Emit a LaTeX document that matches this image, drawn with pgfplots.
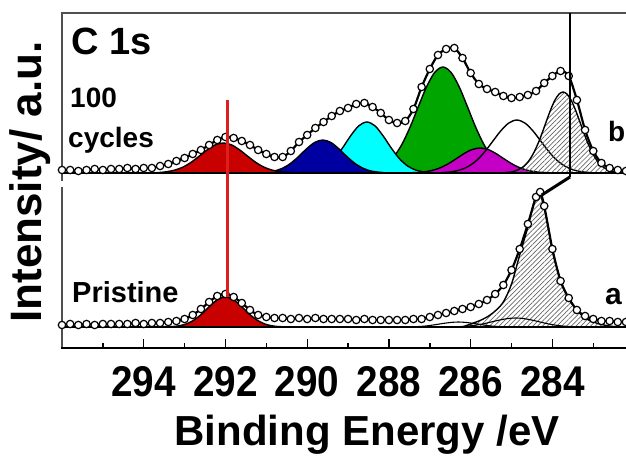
\documentclass[border=0pt]{standalone}
\usepackage{fontspec}
\setmainfont{Liberation Sans}
\newfontfamily\narrowsans[FakeStretch=0.9]{Liberation Sans}
\usepackage{pgfplots}
\pgfplotsset{compat=1.18}
\usetikzlibrary{patterns.meta}
\definecolor{cred}{RGB}{200,0,0}
\definecolor{cblue}{RGB}{0,0,160}
\definecolor{ccyan}{RGB}{0,255,255}
\definecolor{cgreen}{RGB}{0,165,0}
\definecolor{cmag}{RGB}{195,0,195}
\definecolor{vline}{RGB}{225,30,30}
\definecolor{framec}{RGB}{80,80,80}
\pgfplotsset{
  peak/.style={draw=black, line width=1.4pt, smooth},
  hatch/.style={pattern={Lines[angle=45,distance=3.4pt,line width=0.7pt]}, pattern color=black!60},
  env/.style={black, line width=2.2pt, smooth, mark=*, mark size=3.7pt,
    mark options={solid, fill=white, draw=black, line width=1.2pt}},
}
\begin{document}
\begin{tikzpicture}
\path[use as bounding box] (0pt,0pt) rectangle (626pt,455pt);
% ---------- bottom panel: pristine (its frame encloses the whole figure) ----------
\begin{axis}[at={(62pt,107pt)}, anchor=south west, scale only axis,
  width=566pt, height=335pt, x dir=reverse, xmin=282.15, xmax=296,
  ymin=-21, ymax=314,
  axis line style={framec, line width=1.5pt},
  ytick=\empty,
  xtick={284,286,288,290,292,294},
  major tick length=0pt, minor tick length=0pt,
  /pgf/number format/assume math mode=true,
  xticklabel style={font=\narrowsans\bfseries\fontsize{43}{50}\selectfont, inner sep=0pt, yshift=-18pt}]
% red
\addplot[peak, fill=cred] coordinates {(293.6,0)(293.4,0.2)(293.2,0.8)(293.0,2.5)(292.8,6.2)(292.6,12.3)(292.4,20.2)(292.2,27.2)(292.0,30)(291.8,27.2)(291.6,20.2)(291.4,12.3)(291.2,6.2)(291.0,2.5)(290.8,0.8)(290.6,0.2)(290.4,0)} \closedcycle;
% hatched main peak
\addplot[peak, hatch] coordinates {(286.2,0)(286.0,3)(285.8,6)(285.6,10)(285.4,16)(285.2,25)(285.0,43)(284.8,72)(284.6,100)(284.45,125)(284.35,134)(284.25,127)(284.1,100)(284.0,76)(283.8,47)(283.6,28)(283.4,17)(283.2,9)(283.0,5)(282.8,2.5)(282.6,1)(282.4,0)} \closedcycle;
% small components (outline)
\addplot[peak, line width=1.1pt] coordinates {(286.5,0)(286.3,0.35)(286.1,0.8)(285.9,1.7)(285.7,3.1)(285.5,5.0)(285.3,6.9)(285.1,8.4)(284.9,9)(284.7,8.4)(284.5,6.9)(284.3,5.0)(284.1,3.1)(283.9,1.7)(283.7,0.8)(283.5,0.35)(283.3,0)};
\addplot[peak, line width=1.1pt] coordinates {(287.5,0)(287.3,0.4)(287.1,1.0)(286.9,2.1)(286.7,3.4)(286.5,4.5)(286.3,5)(286.1,4.5)(285.9,3.4)(285.7,2.1)(285.5,1.0)(285.3,0.4)(285.1,0)};
% baseline
\addplot[black, line width=2pt] coordinates {(296,0)(282.2,0)};
% measured data + envelope
\addplot[env] coordinates {(296.0,2)(295.8,3)(295.6,2)(295.4,3)(295.2,2)(295.0,3)(294.8,3)(294.6,3)(294.4,3)(294.2,4)(294.0,3)(293.8,4)(293.6,4)(293.4,5)(293.2,6)(293.0,8)(292.8,12)(292.6,18)(292.4,25)(292.2,31)(292.0,33)(291.8,30)(291.6,24)(291.4,17)(291.2,12)(291.0,10)(290.8,9)(290.6,9)(290.4,8)(290.2,9)(290.0,8)(289.8,9)(289.6,8)(289.4,8)(289.2,8)(289.0,8)(288.8,7)(288.6,8)(288.4,7)(288.2,7)(288.0,7)(287.8,7)(287.6,7)(287.4,8)(287.2,8)(287.0,10)(286.8,12)(286.6,14)(286.4,16)(286.2,18)(286.0,20)(285.8,23)(285.6,27)(285.4,33)(285.2,42)(285.0,57)(284.8,78)(284.6,103)(284.4,130)(284.3,135)(284.2,121)(284.0,78)(283.8,46)(283.6,29)(283.4,17)(283.2,11)(283.0,8)(282.8,6)(282.6,6)(282.4,5)(282.2,5)};
\coordinate (rbot) at (axis cs:291.95,30);
\coordinate (kbot) at (axis cs:284.26,132);
\pgfplotsinvokeforeach{283,284,...,295}{\coordinate (tk#1) at (axis cs:#1,-21);}
\end{axis}
% ---------- top panel: 100 cycles ----------
\begin{axis}[at={(62pt,275pt)}, anchor=south west, scale only axis,
  width=566pt, height=167pt, x dir=reverse, xmin=282.15, xmax=296,
  ymin=-7, ymax=160, hide axis, clip=false]
% green
\addplot[peak, fill=cgreen] coordinates {(288.88,0)(288.68,0.6)(288.48,1.6)(288.28,3.8)(288.08,8.3)(287.88,16.3)(287.68,28.8)(287.48,46.1)(287.28,66.4)(287.08,86.1)(286.88,100.6)(286.68,106)(286.48,100.6)(286.28,86.1)(286.08,66.4)(285.88,46.1)(285.68,28.8)(285.48,16.3)(285.28,8.3)(285.08,3.8)(284.88,1.6)(284.68,0.6)(284.48,0)} \closedcycle;
% cyan
\addplot[peak, fill=ccyan] coordinates {(290.14,0)(289.94,1.0)(289.74,2.9)(289.54,6.9)(289.34,14.2)(289.14,24.8)(288.94,37.0)(288.74,47.1)(288.54,51)(288.34,47.1)(288.14,37.0)(287.94,24.8)(287.74,14.2)(287.54,6.9)(287.34,2.9)(287.14,1.0)(286.94,0)} \closedcycle;
% blue
\addplot[peak, fill=cblue] coordinates {(291.22,0)(291.02,0.7)(290.82,1.8)(290.62,4.5)(290.42,9.2)(290.22,16.1)(290.02,24.0)(289.82,30.5)(289.62,33)(289.42,30.5)(289.22,24.0)(289.02,16.1)(288.82,9.2)(288.62,4.5)(288.42,1.8)(288.22,0.7)(288.02,0)} \closedcycle;
% magenta
\addplot[peak, fill=cmag] coordinates {(287.57,0)(287.37,0.4)(287.17,1.0)(286.97,2.3)(286.77,4.8)(286.57,8.7)(286.37,13.8)(286.17,19.2)(285.97,23.4)(285.77,25)(285.57,23.4)(285.37,19.2)(285.17,13.8)(284.97,8.7)(284.77,4.8)(284.57,2.3)(284.37,1.0)(284.17,0.4)(283.97,0)} \closedcycle;
% red
\addplot[peak, fill=cred] coordinates {(293.85,0)(293.65,0.4)(293.45,1.2)(293.25,2.8)(293.05,5.7)(292.85,10.4)(292.65,16.6)(292.45,23.0)(292.25,28.1)(292.05,30)(291.85,28.1)(291.65,23.0)(291.45,16.6)(291.25,10.4)(291.05,5.7)(290.85,2.8)(290.65,1.2)(290.45,0.4)(290.25,0)} \closedcycle;
% white (outline)
\addplot[peak] coordinates {(286.87,0)(286.67,0.4)(286.47,1.2)(286.27,2.9)(286.07,6.3)(285.87,12.0)(285.67,20.5)(285.47,31.1)(285.27,41.8)(285.07,49.9)(284.87,53)(284.67,49.9)(284.47,41.8)(284.27,31.1)(284.07,20.5)(283.87,12.0)(283.67,6.3)(283.47,2.9)(283.27,1.2)(283.07,0.4)(282.87,0)};
% hatched
\addplot[peak, hatch] coordinates {(285.34,0)(285.14,0.4)(284.94,1.6)(284.74,5.4)(284.64,9.1)(284.54,14.3)(284.44,21.5)(284.34,30.6)(284.24,41.2)(284.14,52.6)(284.04,63.5)(283.94,72.7)(283.84,78.8)(283.74,81)(283.64,78.8)(283.54,72.7)(283.44,63.5)(283.34,52.6)(283.24,41.2)(283.14,30.6)(283.04,21.5)(282.94,14.3)(282.84,9.1)(282.74,5.4)(282.54,1.6)(282.34,0.4)(282.2,0.1)} \closedcycle;
% baseline
\addplot[black, line width=2pt] coordinates {(296,0)(282.2,0)};
% measured data + envelope
\addplot[env] coordinates {(296.0,3)(295.8,3)(295.6,2)(295.4,3)(295.2,4)(295.0,3)(294.8,4)(294.6,4)(294.4,5)(294.2,4)(294.0,5)(293.8,5)(293.6,7)(293.4,9)(293.2,12)(293.0,15)(292.8,19)(292.6,23)(292.4,28)(292.2,33)(292.0,36)(291.8,35)(291.6,32)(291.4,28)(291.2,23)(291.0,19)(290.8,16)(290.6,16)(290.4,22)(290.2,31)(290.0,38)(289.8,45)(289.6,51)(289.4,57)(289.2,62)(289.0,65)(288.8,69)(288.6,70)(288.4,66)(288.2,60)(288.0,53)(287.8,50)(287.6,52)(287.4,64)(287.2,86)(287.0,104)(286.8,118)(286.6,124)(286.4,125)(286.2,115)(286.0,100)(285.8,89)(285.6,84)(285.4,81)(285.2,77)(285.0,75)(284.8,76)(284.6,78)(284.4,82)(284.2,90)(284.0,97)(283.8,102)(283.6,97)(283.4,73)(283.2,43)(283.0,22)(282.8,10)(282.6,5)(282.4,3)(282.2,2)};
\coordinate (rtop) at (axis cs:291.95,73);
\coordinate (ktop) at (axis cs:283.57,160);
\coordinate (kmid) at (axis cs:283.57,-4);
\end{axis}
% gap in the left frame between the panels, heavier bottom axis line
\draw[white, line width=4pt] (62pt,268pt) -- (62pt,274pt);
\draw[black, line width=2pt] (61.25pt,107pt) -- (627pt,107pt);
% inward tick marks of the energy axis
\foreach \t in {284,286,288,290,292,294} \draw[black, line width=1.4pt] (tk\t) -- ++(0pt,9pt);
\foreach \t in {283,285,287,289,291,293,295} \draw[black, line width=1.4pt] (tk\t) -- ++(0pt,5pt);
% marker lines
\draw[vline, line width=2.4pt] (rtop) -- (rbot);
\draw[black, line width=1.6pt] (ktop) -- (kmid);
\draw[black, line width=3pt] (kmid) -- (kbot);
% texts
\node[anchor=base west, inner sep=0pt, font=\bfseries\fontsize{38}{44}\selectfont] at (71pt,400pt) {C 1s};
\node[anchor=base west, inner sep=0pt, font=\bfseries\fontsize{28}{34}\selectfont] at (70pt,347pt) {100};
\node[anchor=base west, inner sep=0pt, font=\bfseries\fontsize{28}{34}\selectfont] at (68pt,307pt) {cycles};
\node[anchor=base west, inner sep=0pt, font=\bfseries\fontsize{29}{35}\selectfont] at (72pt,152pt) {Pristine};
\node[anchor=base west, inner sep=0pt, font=\bfseries\fontsize{28}{34}\selectfont] at (608pt,313pt) {b};
\node[anchor=base west, inner sep=0pt, font=\bfseries\fontsize{30}{36}\selectfont] at (605pt,150pt) {a};
\node[anchor=base, inner sep=0pt, font=\bfseries\fontsize{42}{50}\selectfont] at (367pt,10pt) {Binding Energy /eV};
\node[rotate=90, inner sep=0pt, font=\bfseries\fontsize{44}{52}\selectfont] at (30pt,273pt) {Intensity/ a.u.};
\end{tikzpicture}
\end{document}
